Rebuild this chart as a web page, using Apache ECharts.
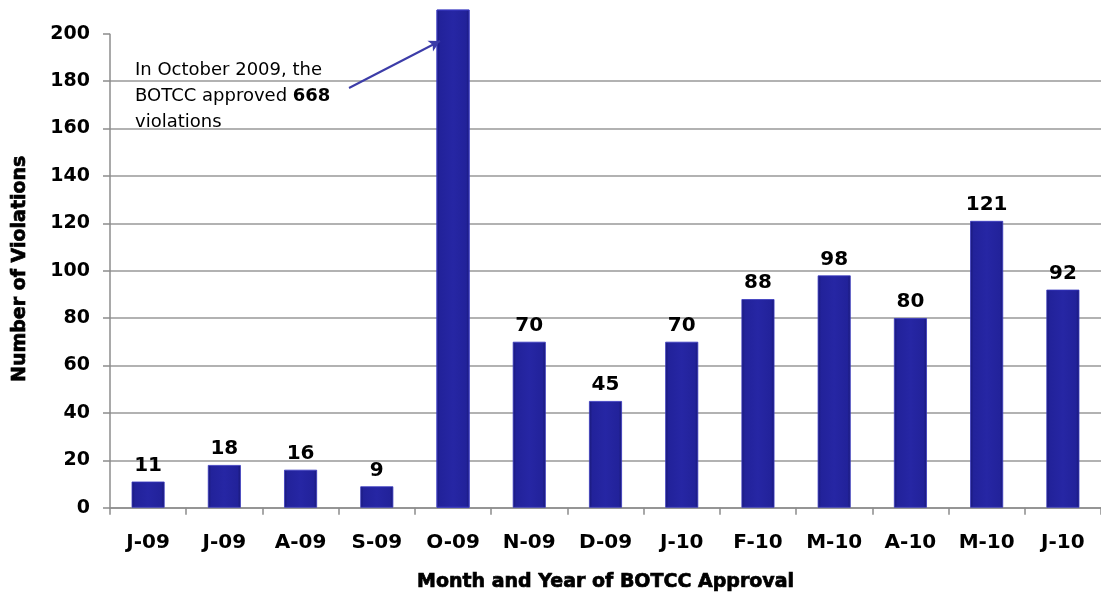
<!DOCTYPE html>
<html>
<head>
<meta charset="utf-8">
<script src="https://cdn.jsdelivr.net/npm/echarts@6/dist/echarts.min.js"></script>
<style>html,body{margin:0;padding:0;background:#fff}#c{width:1101px;height:597px}</style>
</head>
<body>
<div id="c"></div>
<script>
const categories = ['J-09','J-09','A-09','S-09','O-09','N-09','D-09','J-10','F-10','M-10','A-10','M-10','J-10'];
const violations = [11, 18, 16, 9, 668, 70, 45, 70, 88, 98, 80, 121, 92];
const yTicks = [0, 20, 40, 60, 80, 100, 120, 140, 160, 180, 200];
const hiddenLabelIndex = 4;

const FONT = 'DejaVu Sans';
const GRID_LEFT = 110;
const chart = echarts.init(document.getElementById('c'), null, {renderer: 'canvas'});
const barColor = new echarts.graphic.LinearGradient(0, 0, 1, 0, [
  {offset: 0, color: '#181875'},
  {offset: 0.1, color: '#22229a'},
  {offset: 0.5, color: '#2626a4'},
  {offset: 0.9, color: '#22229a'},
  {offset: 1, color: '#181875'}
]);
chart.setOption({
  animation: false,
  grid: {left: GRID_LEFT, right: -4, top: 10, bottom: 86, containLabel: false},
  xAxis: {
    type: 'category',
    data: categories,
    name: 'Month and Year of BOTCC Approval',
    nameLocation: 'middle',
    nameGap: 65,
    nameTextStyle: {fontFamily: FONT, fontWeight: 'bold', fontSize: 19, color: '#000', textBorderColor: '#000', textBorderWidth: 0.7},
    axisLine: {lineStyle: {color: '#8c8c8c', width: 1.5}},
    axisTick: {show: true, length: 7, lineStyle: {color: '#8c8c8c', width: 1.5}},
    axisLabel: {fontFamily: FONT, fontWeight: 'bold', fontSize: 20, color: '#000', margin: 25}
  },
  yAxis: {
    type: 'value',
    min: 0, max: 210, interval: 20,
    name: 'Number of Violations',
    nameLocation: 'middle',
    nameGap: 80,
    nameTextStyle: {fontFamily: FONT, fontWeight: 'bold', fontSize: 19, color: '#000', padding: [0, 20, 0, 0], textBorderColor: '#000', textBorderWidth: 0.7},
    axisLine: {show: false},
    axisTick: {show: true, length: 7, customValues: yTicks, lineStyle: {color: '#8c8c8c', width: 1.5}},
    axisLabel: {fontFamily: FONT, fontWeight: 'bold', fontSize: 19, color: '#000', margin: 20, customValues: yTicks},
    splitLine: {show: true, showMaxLine: false, lineStyle: {color: '#999', width: 1.5}}
  },
  series: [{
    type: 'bar',
    barWidth: 33,
    clip: true,
    data: violations.map((v, i) => ({
      value: v,
      label: {show: i !== hiddenLabelIndex}
    })),
    itemStyle: {color: barColor, borderColor: '#3a3ac0', borderWidth: 0.8},
    label: {position: 'top', distance: 6, fontFamily: FONT, fontWeight: 'bold', fontSize: 20, color: '#000'},
    markLine: {
      silent: true,
      symbol: ['none', 'arrow'],
      symbolSize: [9, 11],
      label: {show: false},
      lineStyle: {color: '#3c3ca8', width: 2, type: 'solid'},
      data: [[{x: 349, y: 88}, {x: 440, y: 41}]]
    }
  }],
  graphic: [{
    type: 'text',
    left: 135,
    top: 57,
    style: {
      text: 'In October 2009, the\nBOTCC approved {b|668}\nviolations',
      fontFamily: FONT,
      fontSize: 18,
      lineHeight: 26,
      fill: '#000',
      rich: {b: {fontFamily: FONT, fontSize: 18, lineHeight: 26, fontWeight: 'bold', fill: '#000'}}
    }
  }]
});
// y-axis line from 0 up to the top tick (200), as in the reference
const yBottom = chart.convertToPixel({yAxisIndex: 0}, yTicks[0]);
const yTop = chart.convertToPixel({yAxisIndex: 0}, yTicks[yTicks.length - 1]);
chart.setOption({
  graphic: [{
    type: 'text',
    left: 135,
    top: 57,
    style: {
      text: 'In October 2009, the\nBOTCC approved {b|668}\nviolations',
      fontFamily: FONT,
      fontSize: 18,
      lineHeight: 26,
      fill: '#000',
      rich: {b: {fontFamily: FONT, fontSize: 18, lineHeight: 26, fontWeight: 'bold', fill: '#000'}}
    }
  }, {
    type: 'line',
    z: 5,
    shape: {x1: GRID_LEFT, y1: yBottom, x2: GRID_LEFT, y2: yTop},
    style: {stroke: '#8c8c8c', lineWidth: 1.5}
  }]
}, {replaceMerge: ['graphic']});
</script>
</body>
</html>
